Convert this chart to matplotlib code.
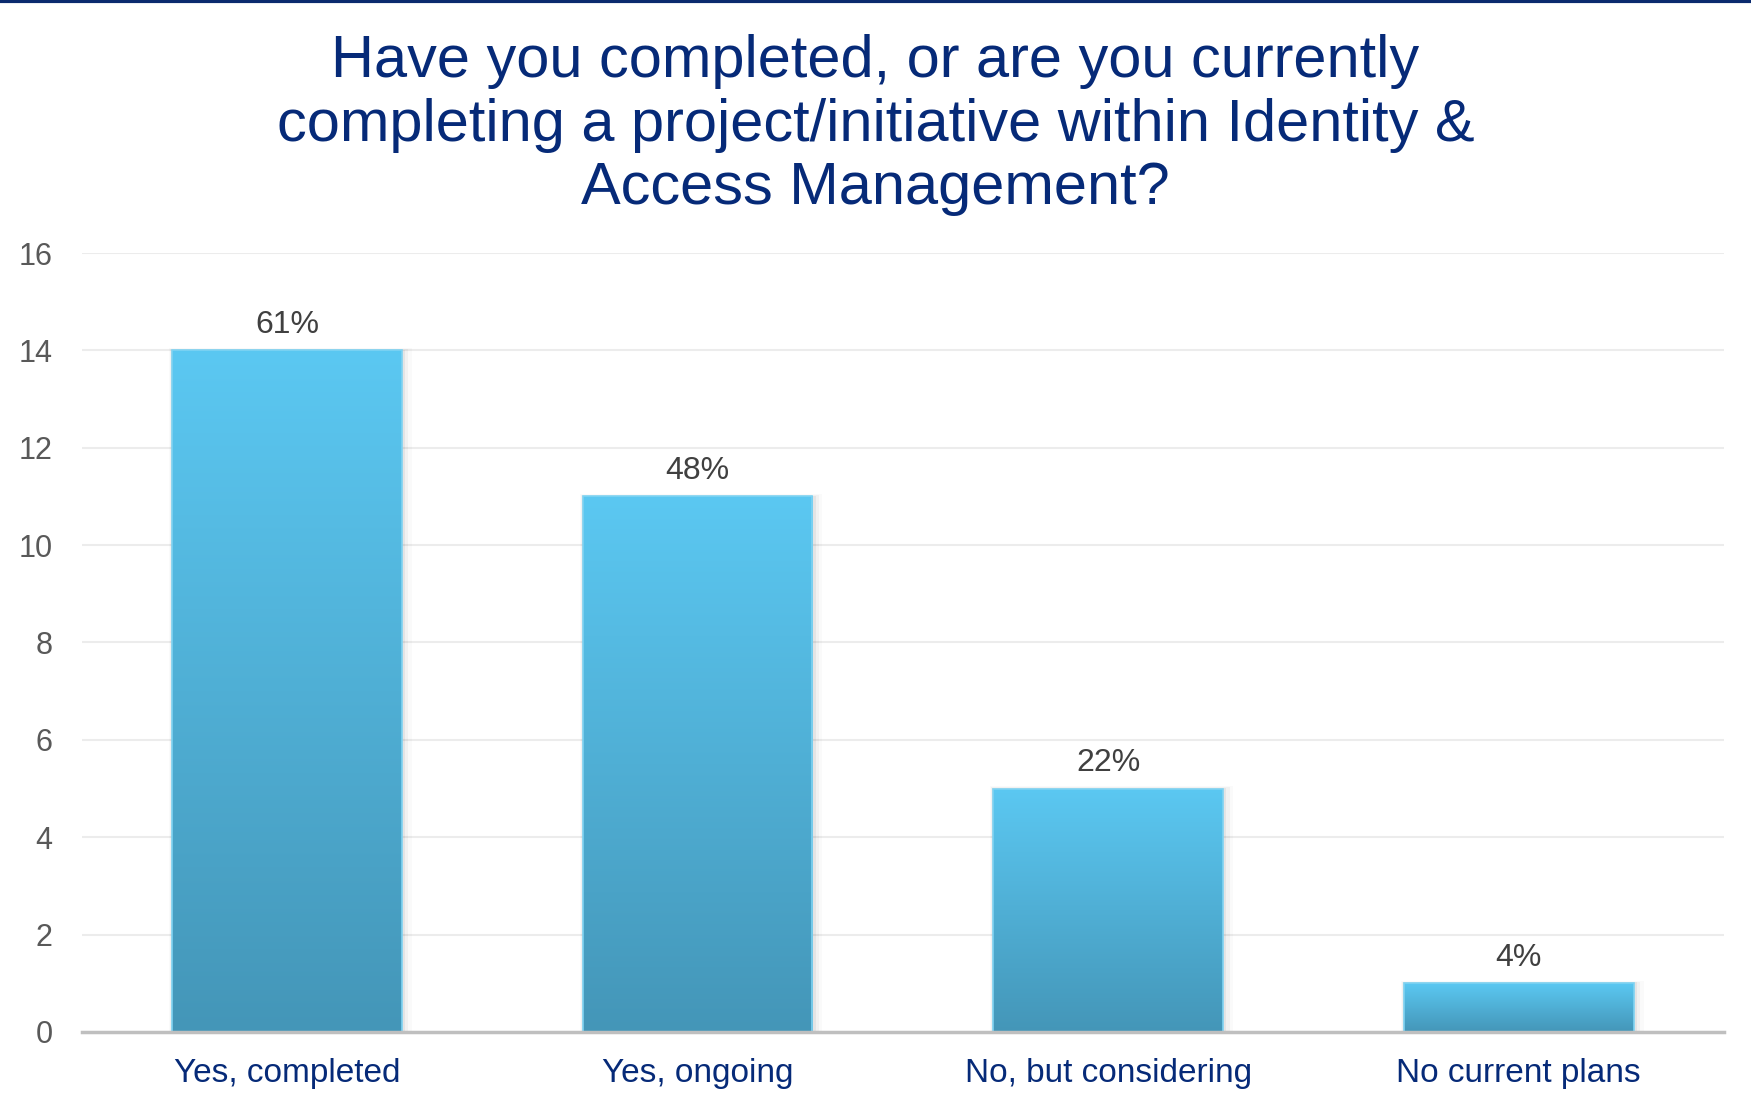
import matplotlib.pyplot as plt
import numpy as np
from matplotlib.colors import LinearSegmentedColormap
from matplotlib.patches import Rectangle

plt.rcParams['font.family'] = ['Liberation Sans', 'DejaVu Sans']

kategorie = ["Yes, completed", "Yes, ongoing", "No, but considering", "No current plans"]
liczby = [14, 11, 5, 1]
procenty = ["61%", "48%", "22%", "4%"]
yticks = [0, 2, 4, 6, 8, 10, 12, 14, 16]

navy = "#062a78"
gradient = LinearSegmentedColormap.from_list("bar", ["#4496b8", "#5bc8f2"])

fig = plt.figure(figsize=(17.51, 11.03), dpi=100)
ax = fig.add_axes([0.0466, 0.0645, 0.938, 0.706])

x = np.arange(len(kategorie))
width = 0.56
bars = ax.bar(x, liczby, width, color="none", edgecolor="none", zorder=3)

# gradient fill + soft shadow for each bar
grad = np.linspace(0, 1, 256).reshape(-1, 1)
for bar, tekst in zip(bars, procenty):
    x0, w, h = bar.get_x(), bar.get_width(), bar.get_height()
    for i, a in enumerate([0.05, 0.035, 0.02]):
        d = 0.008 * (i + 1)
        ax.add_patch(Rectangle((x0 - d * 0.3, 0), w + d * 1.3, h + d * 2,
                               color="black", alpha=a, lw=0, zorder=2))
    im = ax.imshow(grad, cmap=gradient, aspect="auto", origin="lower",
                   extent=(x0, x0 + w, 0, h), zorder=3)
    im.set_clip_path(bar)
    ax.add_patch(Rectangle((x0, 0), w, h, fill=False, edgecolor="#7fd3f2", lw=1.2, zorder=4))
    ax.annotate(tekst, (x0 + w / 2, h), xytext=(0, 7.5),
                textcoords="offset points", ha="center", va="bottom",
                fontsize=23, color="#404040")

ax.set_xlim(-0.5, len(kategorie) - 0.5)
ax.set_ylim(0, 16)
ax.set_yticks(yticks)
ax.set_yticklabels([str(t) for t in yticks], fontsize=22, color="#595959")
ax.set_xticks(x)
ax.set_xticklabels(kategorie, fontsize=24, color=navy)
ax.tick_params(axis="both", length=0)
ax.tick_params(axis="y", pad=21)
ax.tick_params(axis="x", pad=18.5)
ax.grid(axis="y", color="#ececec", lw=1.5, zorder=0)
for s in ["top", "right", "left"]:
    ax.spines[s].set_visible(False)
ax.spines["bottom"].set_color("#bfbfbf")
ax.spines["bottom"].set_linewidth(2.5)
ax.spines["bottom"].set_zorder(5)

fig.text(0.5, 0.8866, "Have you completed, or are you currently\n"
         "completing a project/initiative within Identity &\n"
         "Access Management?", ha="center", va="center",
         fontsize=42.8, color=navy, linespacing=1.19)

# thin navy band along the top edge
fig.add_artist(plt.Line2D([0, 1], [0.999, 0.999], color="#0a2a6e", lw=3, transform=fig.transFigure))

fig.savefig("out.png", dpi=100, facecolor="white")
